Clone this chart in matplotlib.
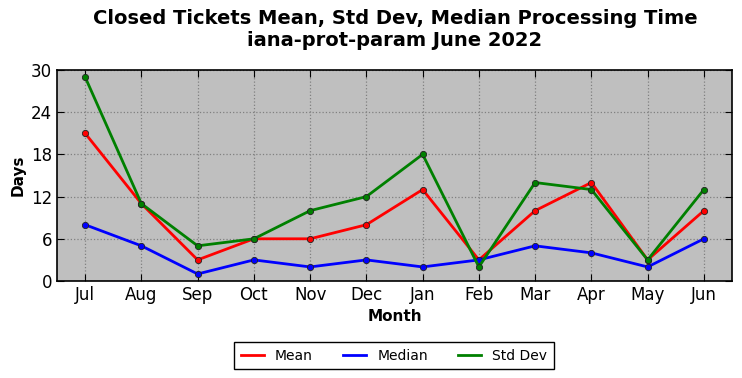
import matplotlib
matplotlib.use("Agg")
import matplotlib.pyplot as plt
from matplotlib.lines import Line2D

months = ["Jul", "Aug", "Sep", "Oct", "Nov", "Dec", "Jan", "Feb", "Mar", "Apr", "May", "Jun"]
mean = [21, 11, 3, 6, 6, 8, 13, 3, 10, 14, 3, 10]
median = [8, 5, 1, 3, 2, 3, 2, 3, 5, 4, 2, 6]
stddev = [29, 11, 5, 6, 10, 12, 18, 2, 14, 13, 3, 13]
yticks = [0, 6, 12, 18, 24, 30]

fig = plt.figure(figsize=(7.42, 3.78), dpi=100)
ax = fig.add_axes([57/742, 1 - 281/378, (732-57)/742, (281-70)/378])
ax.set_facecolor("#bfbfbf")
x = list(range(len(months)))
for vals, col, lab in [(mean, "red", "Mean"), (median, "blue", "Median"), (stddev, "green", "Std Dev")]:
    ax.plot(x, vals, color=col, lw=2, marker="o", ms=4.5, mec="#222222", mew=0.6, label=lab)

ax.set_xlim(-0.5, 11.5)
ax.set_ylim(0, 30)
ax.set_yticks(yticks)
ax.set_xticks(x)
ax.set_xticklabels(months)
ax.tick_params(direction="in", top=True, right=True, labelsize=12, length=5)
ax.grid(True, color="#808080", linestyle=":", linewidth=0.9)
ax.set_axisbelow(True)
for s in ax.spines.values():
    s.set_linewidth(1.2)
ax.set_xlabel("Month", fontsize=11, fontweight="bold")
ax.set_ylabel("Days", fontsize=11, fontweight="bold")
fig.suptitle("Closed Tickets Mean, Std Dev, Median Processing Time\niana-prot-param June 2022",
             fontsize=14, fontweight="bold", x=395/742, y=0.975)

handles = [Line2D([0], [0], color=c, lw=2) for c in ["red", "blue", "green"]]
leg = fig.legend(handles, ["Mean", "Median", "Std Dev"], loc="center", ncol=3,
                 bbox_to_anchor=(394/742, 1 - 355.5/378), fontsize=10, fancybox=False,
                 edgecolor="black", framealpha=1, columnspacing=2.2, handlelength=1.65,
                 borderpad=0.45)
leg.get_frame().set_linewidth(1.0)

fig.savefig("out.png", dpi=100)
